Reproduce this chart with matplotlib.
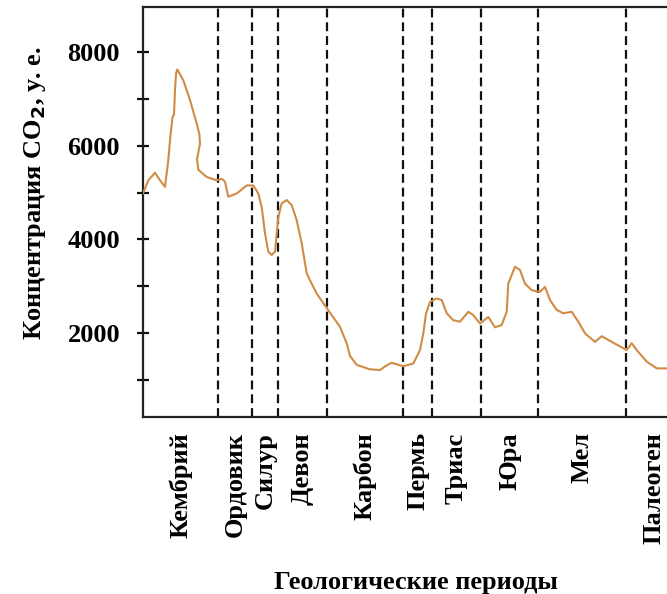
import matplotlib
matplotlib.use("Agg")
import matplotlib.pyplot as plt
from matplotlib.ticker import FixedLocator

plt.rcParams['font.family'] = ['Liberation Serif', 'DejaVu Serif']
plt.rcParams['font.weight'] = 'bold'

# period names and boundaries (relative time scale of the figure)
periods = ["Кембрий", "Ордовик", "Силур", "Девон", "Карбон", "Пермь",
           "Триас", "Юра", "Мел", "Палеоген"]
boundaries = [0, 75, 109, 135, 184, 260, 289, 338, 395, 483, 539]

# CO2 curve (relative time, concentration)
time = [0, 5.3, 12, 17, 22, 25.3, 27.3, 29.5, 31, 32, 33, 34.3, 40.3, 47, 53.7,
        56.3, 57, 54, 55.5, 63.7, 73.7, 79, 82, 85.3, 93.7, 103.7, 110.3, 115.3,
        118.7, 122, 125.3, 128.7, 132, 135.3, 138.7, 143.7, 148.7, 153.7, 158.7,
        163.7, 167, 173.7, 183.7, 197, 203.7, 207, 213.7, 227, 237, 243.7, 248.7,
        254, 260.3, 270.3, 275.3, 277, 280.3, 283, 287, 293.7, 298.7, 303.7, 310.3,
        317, 325.3, 330.3, 337, 345.3, 352, 358.7, 363.7, 365.3, 372, 377, 382,
        388.7, 397, 402, 407, 413.7, 420.3, 428.7, 435.3, 442, 452, 458.7, 468.7,
        483.7, 488.7, 493.7, 503.7, 513.7, 523.7]
co2 = [4980, 5260, 5420, 5260, 5120, 5690, 6180, 6600, 6660, 7180, 7530, 7620,
       7390, 6970, 6470, 6250, 6040, 5700, 5480, 5330, 5260, 5290, 5230, 4910,
       4980, 5150, 5150, 4980, 4690, 4130, 3740, 3670, 3740, 4480, 4770, 4840,
       4730, 4410, 3920, 3280, 3130, 2850, 2540, 2140, 1790, 1520, 1330, 1235,
       1220, 1320, 1375, 1340, 1300, 1360, 1570, 1650, 2000, 2420, 2670, 2745,
       2710, 2430, 2280, 2250, 2460, 2390, 2210, 2350, 2130, 2180, 2460, 3060,
       3420, 3350, 3060, 2920, 2885, 2990, 2710, 2500, 2430, 2460, 2250, 2000,
       1820, 1940, 1820, 1645, 1790, 1645, 1400, 1255, 1255]

major_ticks = [2000, 4000, 6000, 8000]
minor_ticks = [1000, 3000, 5000, 7000]

fig = plt.figure(figsize=(6.67, 5.94), dpi=100)
ax = fig.add_axes([143/667, 1 - 417/594, 1 - 143/667, 410/594])

ax.plot(time, co2, color='#D08C45', lw=1.5, solid_joinstyle='round', zorder=3)
for b in boundaries[1:-1]:
    ax.axvline(b, color='#111111', lw=1.6, linestyle=(0, (4, 2.2)), zorder=2)

ax.set_xlim(0, 524)
ax.set_ylim(220, 8950)

ax.yaxis.set_major_locator(FixedLocator(major_ticks))
ax.yaxis.set_minor_locator(FixedLocator(minor_ticks))
ax.set_yticklabels([str(t) for t in major_ticks], fontsize=19, fontweight='bold')
ax.tick_params(axis='y', which='both', direction='inout', length=9, width=1.6,
               color='#111111', pad=12)

mids = [(boundaries[i] + boundaries[i + 1]) / 2 for i in range(len(periods))]
ax.set_xticks(mids)
ax.set_xticklabels(periods, rotation=90, fontsize=19, fontweight='bold')
ax.tick_params(axis='x', length=0, pad=11)

for s in ['left', 'top', 'bottom']:
    ax.spines[s].set_linewidth(1.6)
    ax.spines[s].set_color('#222222')
ax.spines['right'].set_visible(False)

fig.text(35/667, 1 - 193/594, "Концентрация CO$_\\mathbf{2}$, у. е.", rotation=90,
         ha='center', va='center', fontsize=19, fontweight='bold')
fig.text(416/667, 1 - 582/594, "Геологические периоды", ha='center', va='center',
         fontsize=19, fontweight='bold')

fig.savefig("out.png", dpi=100)
